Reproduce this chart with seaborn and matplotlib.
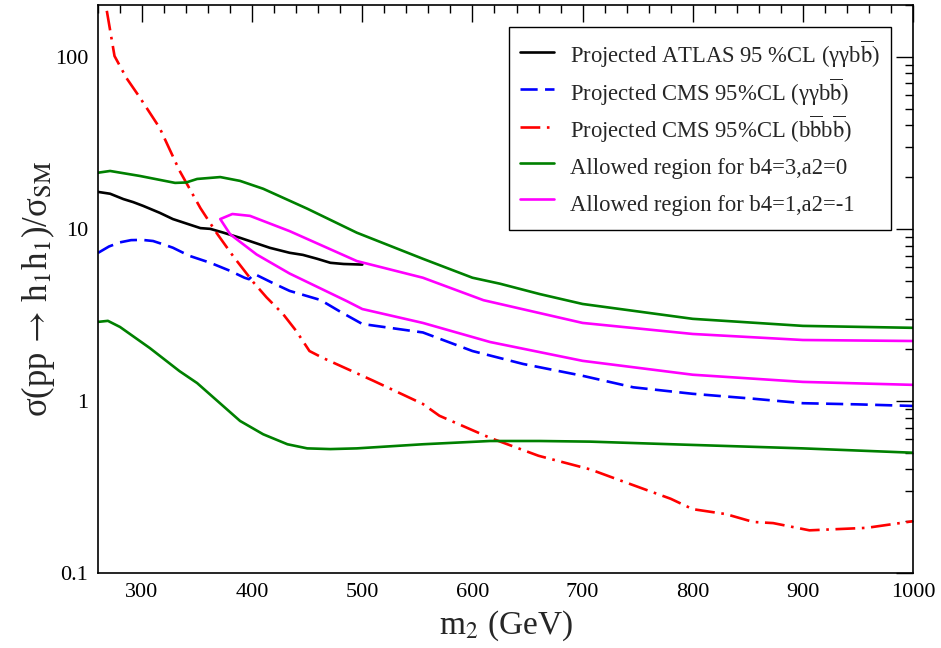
import numpy as np
import pandas as pd
import matplotlib
matplotlib.use("Agg")
import matplotlib.pyplot as plt
from matplotlib.ticker import FixedLocator, FuncFormatter, MultipleLocator, LogLocator, NullFormatter
import seaborn as sns

# ---- data ----
atlas_x = [260, 271, 283, 292, 301, 316, 328, 343, 353, 362, 374, 389, 416, 434, 446, 459, 471, 483, 500]
atlas_y = [16.4, 16.0, 14.9, 14.3, 13.6, 12.4, 11.4, 10.6, 10.1, 10.0, 9.5, 8.87, 7.76, 7.26, 7.06, 6.7, 6.35, 6.25, 6.2]

cms_gg_x = [260, 270, 280, 290, 300, 310, 320, 328, 343, 362, 380, 393, 397, 402, 420, 434, 462, 480, 500,
            555, 600, 646, 700, 746, 800, 855, 900, 950, 1000]
cms_gg_y = [7.25, 7.9, 8.35, 8.6, 8.63, 8.5, 8.1, 7.77, 6.97, 6.35, 5.7, 5.2, 5.1, 5.47, 4.8, 4.36, 3.86, 3.3, 2.8,
            2.5, 1.95, 1.64, 1.4, 1.2, 1.1, 1.03, 0.97, 0.955, 0.935]

cms_bb_x = [268, 275, 286, 298, 316, 334, 353, 368, 383, 401, 413, 428, 440, 452, 464, 510, 555, 570, 616,
            660, 707, 737, 780, 800, 830, 855, 873, 906, 958, 1000]
cms_bb_y = [185, 101, 75, 58, 38.6, 21.8, 13.2, 9.4, 6.9, 4.9, 4.0, 3.2, 2.55, 1.95, 1.78, 1.31, 0.96, 0.82, 0.61,
            0.48, 0.40, 0.34, 0.27, 0.235, 0.22, 0.198, 0.195, 0.177, 0.183, 0.2]

green_up_x = [260, 271, 298, 330, 340, 350, 371, 389, 410, 450, 495, 555, 600, 625, 661, 700, 800, 900, 1000]
green_up_y = [21.2, 21.7, 20.3, 18.5, 18.6, 19.5, 20.0, 19.0, 17.1, 13.1, 9.5, 6.7, 5.2, 4.8, 4.18, 3.66, 3.0, 2.73, 2.66]

green_lo_x = [260, 269, 280, 307, 334, 350, 389, 410, 432, 450, 471, 495, 555, 616, 661, 707, 800, 900, 1000]
green_lo_y = [2.88, 2.92, 2.69, 2.03, 1.49, 1.27, 0.765, 0.64, 0.56, 0.53, 0.525, 0.53, 0.56, 0.585, 0.585, 0.58,
              0.555, 0.53, 0.50]

magenta_x = [1000, 900, 800, 700, 625, 610, 555, 495, 434, 398, 382, 371,
             380, 404, 434, 486, 500, 555, 616, 700, 800, 900, 1000]
magenta_y = [2.23, 2.26, 2.45, 2.84, 3.66, 3.85, 5.2, 6.5, 9.7, 11.9, 12.2, 11.4,
             9.3, 7.1, 5.5, 3.8, 3.42, 2.84, 2.2, 1.71, 1.42, 1.29, 1.24]

labels = [
    r"Projected ATLAS 95 %CL (γγb$\overline{\mathrm{b}}$)",
    r"Projected CMS 95%CL (γγb$\overline{\mathrm{b}}$)",
    r"Projected CMS 95%CL (b$\overline{\mathrm{b}}$b$\overline{\mathrm{b}}$)",
    "Allowed region for b4=3,a2=0",
    "Allowed region for b4=1,a2=-1",
]
yticks = [0.1, 1, 10, 100]
xticks = [300, 400, 500, 600, 700, 800, 900, 1000]

# ---- style ----
sns.set_theme(style="white")
plt.rcParams["font.family"] = ["Liberation Serif", "DejaVu Serif"]
plt.rcParams["mathtext.fontset"] = "stix"
plt.rcParams["xtick.direction"] = "in"
plt.rcParams["ytick.direction"] = "in"

fig = plt.figure(figsize=(9.41, 6.48), dpi=100)
ax = fig.add_axes([98 / 941, 1 - 573 / 648, (913 - 98) / 941, (573 - 5) / 648])

lw = 1.9
kw = dict(ax=ax, sort=False, estimator=None, linewidth=lw)
sns.lineplot(x=atlas_x, y=atlas_y, color="black", label=labels[0], **kw)
sns.lineplot(x=cms_gg_x, y=cms_gg_y, color="#0000ff", linestyle=(0, (6.5, 2.8)), label=labels[1], **kw)
sns.lineplot(x=cms_bb_x, y=cms_bb_y, color="#ff0000", linestyle=(0, (7.5, 2.5, 1.0, 2.5)), label=labels[2], **kw)
sns.lineplot(x=green_up_x, y=green_up_y, color="#008000", label=labels[3], **kw)
sns.lineplot(x=green_lo_x, y=green_lo_y, color="#008000", label="_nolegend_", **kw)
sns.lineplot(x=magenta_x, y=magenta_y, color="#ff00ff", label=labels[4], **kw)

ax.set_yscale("log")
ax.set_xlim(260, 1000)
ax.set_ylim(0.1, 200)

ax.xaxis.set_major_locator(FixedLocator(xticks))
ax.xaxis.set_minor_locator(MultipleLocator(20))
ax.yaxis.set_major_locator(FixedLocator(yticks))
ax.yaxis.set_minor_locator(LogLocator(base=10, subs=np.arange(2, 10)))
ax.yaxis.set_major_formatter(FuncFormatter(lambda v, p: f"{v:g}"))
ax.yaxis.set_minor_formatter(NullFormatter())

ax.tick_params(which="both", direction="in", top=True, right=True, colors="black", width=1.0)
ax.tick_params(which="major", length=12, labelsize=16, pad=7)
ax.tick_params(which="minor", length=5.5)
for s in ax.spines.values():
    s.set_color("black")
    s.set_linewidth(1.2)

ax.set_xlabel(r"m$_2$ (GeV)", fontsize=24)
ax.set_ylabel(r"σ(pp$\,\rightarrow\,$h$_1$h$_1$)/σ$_{\rm SM}$", fontsize=25)
ax.xaxis.set_label_coords(0.5, -0.062)
ax.yaxis.set_label_coords(-0.05, 0.5)

leg = ax.legend(loc="upper right", bbox_to_anchor=(0.973, 0.961), borderaxespad=0,
                fontsize=16.3, frameon=True, fancybox=False, framealpha=1, edgecolor="black",
                handlelength=1.5, handleheight=1.75, handletextpad=0.7, labelspacing=0.21,
                borderpad=0.5)
leg.get_frame().set_linewidth(1.0)

fig.savefig("out.png", dpi=100)
